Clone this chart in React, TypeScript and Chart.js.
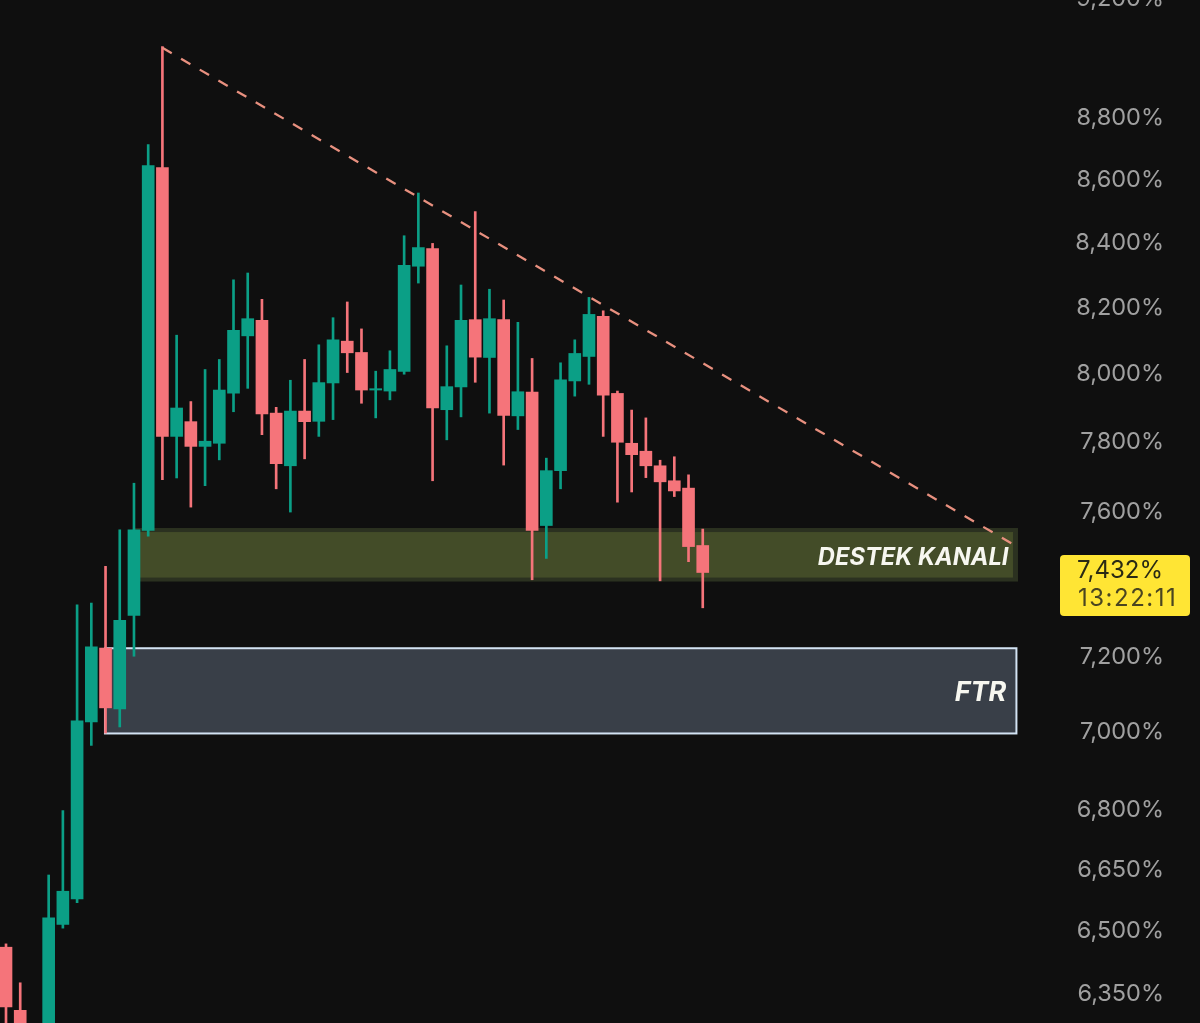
import { useEffect, useRef } from "react";
import { Chart, registerables } from "chart.js";

Chart.register(...registerables);

const opens = [6457, 6307, 6160, 6192, 6512, 6574, 7022, 7218, 7056, 7306, 7541, 8632, 7810, 7853, 7781, 7790, 7937, 8108, 8155, 7878, 7725, 7884, 7854, 7967, 8092, 8058, 7946, 7943, 8001, 8321, 8376, 7888, 7955, 8157, 8043, 8157, 7870, 7940, 7555, 7711, 7973, 8046, 8167, 7936, 7790, 7767, 7725, 7682, 7661, 7499];
const highs = [6465, 6372, 6260, 6633, 6794, 7335, 7340, 7441, 7543, 7675, 8707, 9030, 8110, 7912, 8007, 8037, 8279, 8300, 8219, 7895, 7975, 8037, 8081, 8163, 8211, 8129, 8002, 8063, 8416, 8551, 8392, 8078, 8263, 8492, 8250, 8217, 8149, 8040, 7747, 8027, 8096, 8225, 8184, 7943, 7887, 7864, 7741, 7751, 7699, 7545];
const lows = [6238, 6146, 6140, 6157, 6503, 6565, 6961, 6993, 7009, 7196, 7525, 7685, 7690, 7607, 7668, 7742, 7882, 7951, 7815, 7659, 7593, 7745, 7810, 7859, 7998, 7907, 7864, 7917, 7993, 8269, 7682, 7800, 7867, 7969, 7878, 7727, 7830, 7404, 7463, 7659, 7928, 7963, 7810, 7621, 7650, 7691, 7401, 7637, 7454, 7327];
const closes = [6315, 6192, 6240, 6528, 6593, 7025, 7221, 7059, 7293, 7543, 8639, 7810, 7893, 7781, 7796, 7946, 8125, 8160, 7876, 7731, 7884, 7853, 7968, 8096, 8057, 7946, 7950, 8007, 8324, 8379, 7893, 7956, 8155, 8044, 8160, 7871, 7941, 7541, 7711, 7976, 8055, 8173, 7931, 7793, 7757, 7725, 7679, 7653, 7496, 7424];

const axisTicks = [9200, 8800, 8600, 8400, 8200, 8000, 7800, 7600, 7200, 7000, 6800, 6650, 6500, 6350];

const trendX = [11, 70.8];
const trendY = [9026, 7503];

const GREEN = "#0b9f86";
const RED = "#f5747a";
const FONT = "Inter, Roboto, sans-serif";

const candleColors = closes.map((c, i) => (c >= opens[i] ? GREEN : RED));

const zonesPlugin = {
	id: "zones",
	beforeDatasetsDraw(chart: Chart) {
		const { ctx, scales } = chart;
		const px = (v: number) => scales.x.getPixelForValue(v);
		const py = (v: number) => scales.y.getPixelForValue(v);
		ctx.save();

		// destek kanali
		const dx = px(8.93);
		const dy = py(7548);
		const dw = px(71.17) - dx;
		const dh = py(7399) - dy;
		ctx.fillStyle = "#2b3120";
		ctx.fillRect(dx, dy, dw, dh);
		ctx.fillStyle = "#434c28";
		ctx.fillRect(dx + 4, dy + 4, dw - 9, dh - 8);

		// ftr
		const fx = px(6.96);
		const fy = py(7217.5);
		const fw = px(71.06) - fx;
		const fh = py(6992) - fy;
		ctx.fillStyle = "#393f48";
		ctx.fillRect(fx, fy, fw, fh);
		ctx.strokeStyle = "#d3e3f3";
		ctx.lineWidth = 2;
		ctx.strokeRect(fx, fy, fw, fh);
		ctx.restore();
	},
	afterDatasetsDraw(chart: Chart) {
		const { ctx, scales } = chart;
		ctx.save();
		ctx.fillStyle = "#f7f7f0";
		ctx.textAlign = "right";
		ctx.textBaseline = "middle";
		ctx.font = `italic 700 23.7px ${FONT}`;
		ctx.fillText("DESTEK KANALI", scales.x.getPixelForValue(70.5), scales.y.getPixelForValue(7465));
		ctx.font = `italic 700 27px ${FONT}`;
		ctx.fillText("FTR", scales.x.getPixelForValue(70.35), scales.y.getPixelForValue(7098));
		ctx.restore();
	},
};

export default function App() {
	const chartRef = useRef<HTMLCanvasElement>(null);

	useEffect(() => {
		if (!chartRef.current) return;

		const chart = new Chart(chartRef.current, {
			type: "bar",
			data: {
				datasets: [
					{
						type: "line",
						data: [
							{ x: trendX[0], y: trendY[0] },
							{ x: trendX[1], y: trendY[1] },
						],
						borderColor: "#e8907f",
						borderWidth: 2.3,
						borderDash: [10.8, 10.8],
						pointRadius: 0,
						order: 0,
					},
					{
						data: opens.map((o, i) => ({ x: i, y: [o, closes[i]] })),
						backgroundColor: candleColors,
						borderWidth: 0,
						barThickness: 12,
						grouped: false,
						order: 1,
					},
					{
						data: lows.map((l, i) => ({ x: i, y: [l, highs[i]] })),
						backgroundColor: candleColors,
						borderWidth: 0,
						barThickness: 2,
						grouped: false,
						order: 2,
					},
				] as any,
			},
			options: {
				responsive: false,
				animation: false,
				layout: { autoPadding: false, padding: 0 },
				plugins: { legend: { display: false }, tooltip: { enabled: false } },
				scales: {
					x: {
						type: "linear",
						display: false,
						offset: false,
						min: -0.422,
						max: 83.97,
					},
					y: {
						type: "logarithmic",
						position: "right",
						min: 6230.7,
						max: 9257,
						grid: { display: false },
						border: { display: false },
						afterBuildTicks: (scale) => {
							scale.ticks = axisTicks.map((value) => ({ value }));
						},
						afterFit: (scale) => {
							// labels sit inside the plot, the axis takes no room
							scale.width = 0;
							scale.paddingTop = 0;
							scale.paddingBottom = 0;
						},
						ticks: {
							mirror: true,
							padding: -36,
							labelOffset: 2,
							autoSkip: false,
							color: "#a0a0a0",
							font: { family: FONT, size: 23.5 },
							callback: (value) => `${Number(value).toLocaleString("en-US")}%`,
						},
					},
				},
			},
			plugins: [zonesPlugin],
		});

		return () => {
			chart.destroy();
		};
	}, []);

	return (
		<div
			style={{
				position: "fixed",
				left: 0,
				top: 0,
				width: 1200,
				height: 1023,
				overflow: "hidden",
				background: "#0f0f0f",
				fontFamily: FONT,
			}}
		>
			<canvas
				ref={chartRef}
				width={1200}
				height={1063}
				style={{ position: "absolute", left: 0, top: -20, display: "block" }}
			/>
			<div
				style={{
					position: "absolute",
					left: 1060,
					top: 555,
					width: 130,
					height: 61,
					background: "#ffe534",
					borderRadius: 4,
					color: "#2a2a14",
					fontSize: 24,
					lineHeight: "27px",
				}}
			>
				<div style={{ position: "absolute", left: 17, top: 1 }}>7,432%</div>
				<div style={{ position: "absolute", left: 18, top: 29, letterSpacing: 1.5, color: "#4a4520" }}>13:22:11</div>
			</div>
		</div>
	);
}
